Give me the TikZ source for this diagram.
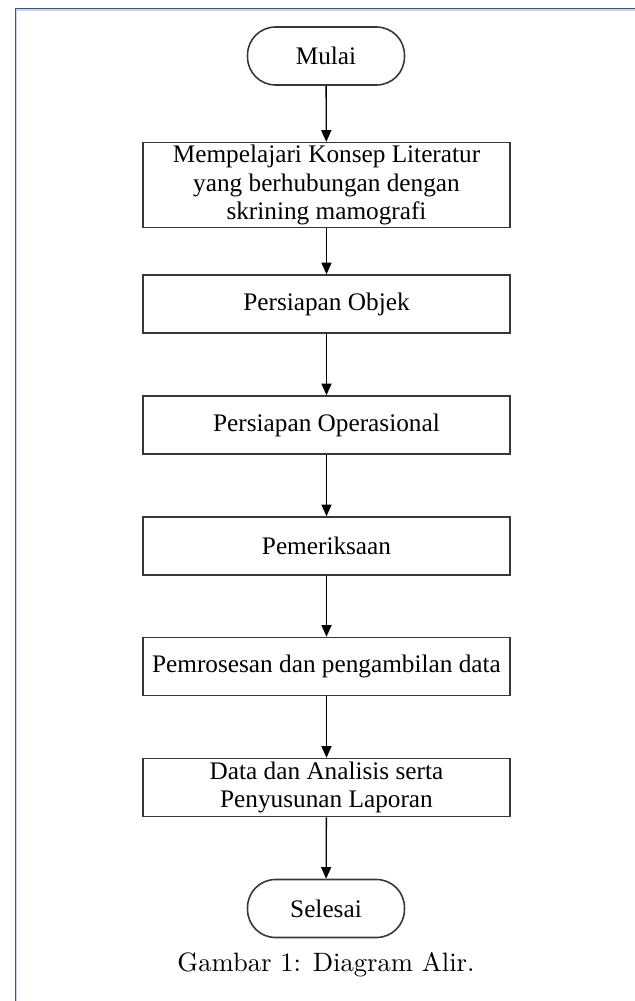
\documentclass[tikz,border=0pt]{standalone}
\usepackage{fontspec}
\newfontfamily\boxfont{Liberation Serif}
\definecolor{frameblue}{RGB}{46,88,138}
\definecolor{framelight}{RGB}{200,214,232}
\definecolor{boxgray}{RGB}{55,55,55}
\usepackage{tikz}
\usetikzlibrary{arrows.meta,positioning}

\tikzset{
  stepbox/.style={draw=boxgray, line width=0.6pt, minimum width=138pt, minimum height=21.8pt,
                  align=center, inner sep=1pt, font=\boxfont\fontsize{9.5}{10.6}\selectfont},
  termbox/.style={stepbox, minimum width=59pt, rounded corners=10.5pt},
  flow/.style={-{Triangle[length=4.4pt,width=3.8pt]}, line width=0.5pt}
}

\begin{document}
\begin{tikzpicture}[x=0.376pt, y=-0.376pt]
    \useasboundingbox (0,0) rectangle (635,1001);
    % frame of the figure
    \draw[framelight, line width=0.5pt] (16.5,1001) -- (16.5,10) -- (635,10);
    \draw[frameblue, line width=0.55pt] (15.5,1001) -- (15.5,8.5) -- (635,8.5);

    \node[termbox] (mulai) at (326,56) {Mulai};
    \node[stepbox, minimum height=31.6pt] (konsep) at (326.5,185)
         {Mempelajari Konsep Literatur\\yang berhubungan dengan\\skrining mamografi};
    \node[stepbox] (objek) at (326.5,304) {Persiapan Objek};
    \node[stepbox] (operasional) at (326.5,425) {Persiapan Operasional};
    \node[stepbox] (periksa) at (326.5,546) {Pemeriksaan};
    \node[stepbox] (proses) at (326.5,666.5) {Pemrosesan dan pengambilan data};
    \node[stepbox] (analisis) at (326.5,787.5) {Data dan Analisis serta\\Penyusunan Laporan};
    \node[termbox] (selesai) at (326,908.5) {Selesai};

    \node[font=\fontsize{10}{12}\selectfont] (caption) at (326,965) {Gambar 1: Diagram Alir.};

    \draw[flow] (mulai) -- (konsep);
    \draw[flow] (konsep) -- (objek);
    \draw[flow] (objek) -- (operasional);
    \draw[flow] (operasional) -- (periksa);
    \draw[flow] (periksa) -- (proses);
    \draw[flow] (proses) -- (analisis);
    \draw[flow] (analisis) -- (selesai);
  \end{tikzpicture}
\end{document}
